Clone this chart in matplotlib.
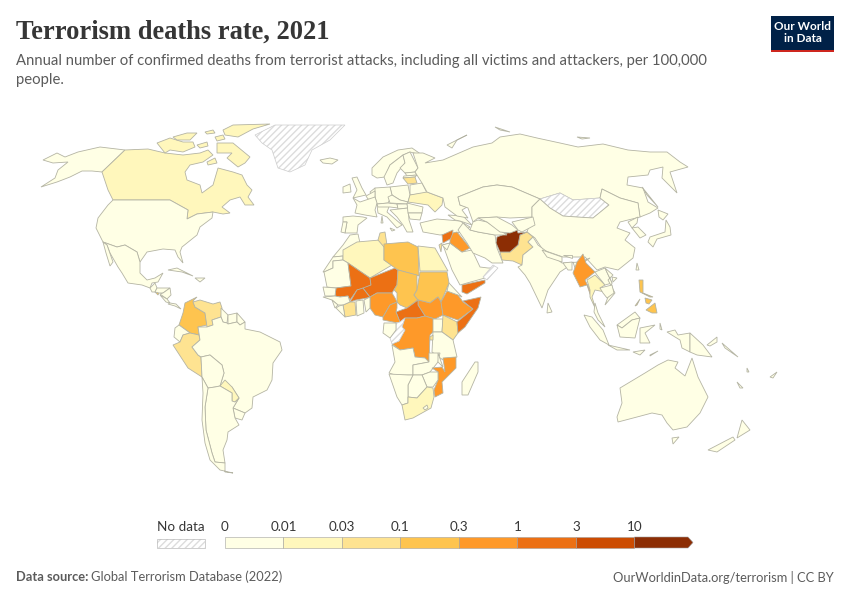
import matplotlib
matplotlib.use("Agg")
import matplotlib.pyplot as plt
from matplotlib.patches import Polygon, Rectangle
from matplotlib.colors import BoundaryNorm, ListedColormap

# bins of the colour scale
bin_edges = [0, 0.01, 0.03, 0.1, 0.3, 1, 3, 10, 30]
bin_labels = ["0", "0.01", "0.03", "0.1", "0.3", "1", "3", "10"]
bin_colors = ["#ffffe5", "#fff7bc", "#fee391", "#fec44f", "#fe9929", "#ec7014", "#cc4c02", "#8c2d04"]

# estimated rates, None = no data. anything not listed sits in the lowest bin
rates = {
    "Canada": 0.02, "Algeria": 0.02, "Egypt": 0.02, "South Africa": 0.02, "Ukraine": 0.02,
    "Thailand": 0.02, "Paraguay": 0.02,
    "Venezuela": 0.05, "Peru": 0.05, "Pakistan": 0.07, "Kenya": 0.06, "Ivory Coast": 0.05,
    "Tunisia": 0.05, "Lithuania": 0.05, "Rwanda": 0.05, "Israel": 0.05,
    "Colombia": 0.2, "Libya": 0.2, "Sudan": 0.2, "Chad": 0.2, "Philippines": 0.15, "El Salvador": 0.15,
    "Nigeria": 0.6, "Cameroon": 0.6, "Ethiopia": 0.6, "South Sudan": 0.7, "DR Congo": 0.6,
    "Myanmar": 0.7, "Mozambique": 0.7, "Iraq": 0.8,
    "Mali": 2, "Niger": 2, "Syria": 2, "Central African Rep.": 2, "Yemen": 1.5, "Somalia": 2,
    "Burkina Faso": 2,
    "Afghanistan": 15,
    "Greenland": None, "Mongolia": None, "Congo": None, "Oman": None,
}

# outlines, in image pixels
outlines = {
    "Alaska": [[(43,160),(57,153),(65,157),(78,152),(100,147),(125,150),(102,172),(92,171),(82,171),(70,177),(57,182),(41,187),(55,178),(58,170),(68,162),(53,163)]],
    "Canada": [
        [(125,150),(148,149),(165,153),(183,155),(200,153),(208,150),(213,155),(203,162),(190,165),(185,172),(187,180),(200,185),(202,193),(213,185),(218,168),(233,172),(242,175),(247,185),(252,190),(248,197),(254,205),(245,205),(240,197),(230,200),(222,207),(230,213),(223,214),(213,212),(197,214),(187,219),(188,210),(170,200),(113,200),(108,190),(102,172)],
        [(217,143),(233,143),(250,157),(245,163),(238,167),(227,158),(232,153),(217,153)],
        [(157,143),(170,138),(183,142),(193,142),(195,147),(183,152),(170,150),(165,153)],
        [(173,137),(187,133),(197,133),(190,140),(177,140)],
        [(197,145),(207,142),(208,146),(200,148)],
        [(205,132),(213,130),(215,133),(207,134)],
        [(215,137),(223,135),(225,139),(217,141)],
        [(223,130),(233,125),(270,124),(253,129),(238,137),(225,135)],
        [(207,162),(215,158),(217,163),(208,165)],
    ],
    "USA": [[(113,200),(170,200),(188,210),(187,219),(197,214),(213,212),(212,218),(200,227),(197,235),(182,247),(180,252),(183,263),(178,257),(175,250),(163,249),(147,252),(140,262),(137,252),(125,245),(117,247),(103,242),(96,228),(98,218),(108,205)]],
    "Mexico": [
        [(103,242),(117,247),(125,245),(137,252),(140,262),(140,273),(147,280),(155,278),(163,273),(158,282),(152,283),(150,288),(142,285),(128,283),(122,273),(118,267),(110,253),(107,245)],
        [(103,242),(107,245),(113,262),(110,266),(106,253)],
    ],
    "Guatemala": [[(150,288),(155,283),(157,288),(155,292),(152,292)]],
    "El Salvador": [[(155,292),(159,293),(158,295)]],
    "Honduras": [[(157,288),(170,288),(163,293),(159,293),(155,292)]],
    "Nicaragua": [[(170,288),(171,295),(167,299),(160,294),(163,293)]],
    "Costa Rica": [[(160,295),(167,299),(170,303),(166,302)]],
    "Panama": [[(170,303),(176,304),(181,309),(175,306),(168,304)]],
    "Cuba": [[(168,270),(177,268),(193,276),(182,272)]],
    "Hispaniola": [[(195,278),(205,278),(200,282)]],
    "Colombia": [[(197,297),(185,303),(183,313),(179,325),(190,333),(199,335),(200,340),(198,327),(207,325),(205,313),(195,307),(193,301)]],
    "Venezuela": [[(193,302),(200,300),(213,304),(220,302),(222,308),(221,317),(212,320),(213,325),(207,327),(205,313),(195,307)]],
    "Guyana": [[(221,308),(228,315),(227,323),(223,322),(221,317)]],
    "Suriname": [[(228,315),(237,313),(237,322),(228,324)]],
    "French Guiana": [[(237,313),(245,322),(240,325),(237,322)]],
    "Ecuador": [[(179,325),(190,333),(183,335),(180,342),(174,337),(175,328)]],
    "Peru": [[(190,333),(199,335),(200,340),(192,347),(198,355),(201,357),(202,377),(188,368),(173,345),(180,342),(183,335)]],
    "Brazil": [[(200,340),(198,327),(207,327),(213,325),(212,320),(221,317),(223,322),(227,323),(228,324),(237,322),(240,325),(245,322),(245,329),(260,332),(280,342),(282,350),(273,363),(272,380),(267,390),(253,397),(252,408),(245,413),(233,408),(239,398),(232,387),(220,386),(224,373),(222,365),(210,355),(201,357),(198,355),(192,347)]],
    "Bolivia": [[(201,357),(210,355),(222,365),(224,373),(220,386),(215,387),(208,388),(202,377)]],
    "Paraguay": [[(220,386),(225,380),(232,387),(239,398),(235,402),(232,401),(232,393)]],
    "Uruguay": [[(233,408),(245,413),(242,420),(235,418)]],
    "Argentina": [[(208,388),(215,387),(220,386),(232,393),(232,401),(235,402),(239,398),(233,408),(235,418),(239,425),(228,432),(227,440),(223,450),(225,463),(215,462),(212,453),(206,430),(205,407)]],
    "Chile": [[(202,377),(208,388),(205,407),(206,430),(212,453),(215,462),(225,463),(225,472),(233,473),(220,470),(210,460),(205,443),(202,420),(203,393)]],
    "Greenland": [[(255,135),(275,125),(345,125),(330,140),(312,150),(305,165),(290,172),(278,168),(272,150),(262,143)]],
    "Iceland": [[(320,160),(330,158),(338,160),(332,164),(323,163)]],
    "UK": [[(352,178),(357,177),(362,188),(366,195),(353,198),(357,190)]],
    "Ireland": [[(343,187),(350,184),(351,192),(343,193)]],
    "Norway": [[(372,168),(383,157),(398,150),(412,148),(422,155),(410,152),(403,155),(390,165),(385,177),(377,178),(372,175)]],
    "Sweden": [[(390,165),(403,155),(405,163),(397,173),(393,183),(387,185),(384,177)]],
    "Finland": [[(403,155),(410,152),(418,168),(415,172),(405,173),(400,168),(405,163)]],
    "Denmark": [[(370,192),(375,188),(377,193),(372,196)]],
    "Estonia": [[(405,173),(415,172),(417,175),(407,176)]],
    "Latvia": [[(404,176),(417,175),(415,177),(403,178)]],
    "Lithuania": [[(403,178),(415,177),(417,183),(408,184)]],
    "Belarus": [[(410,185),(422,183),(427,193),(410,195)]],
    "Poland": [[(390,187),(408,185),(410,195),(408,202),(400,200),(392,195)]],
    "Ukraine": [[(410,195),(427,192),(443,198),(442,205),(435,212),(428,205),(415,203),(408,202)]],
    "Germany": [[(375,188),(390,187),(392,195),(388,203),(377,204),(375,197)]],
    "Benelux": [[(366,196),(375,191),(375,197),(375,200),(368,199)]],
    "France": [[(353,198),(360,202),(375,197),(377,203),(375,210),(377,217),(365,215),(355,213),(357,205)]],
    "Spain": [[(343,217),(353,216),(363,217),(367,218),(358,225),(357,233),(345,233),(347,222),(343,222)]],
    "Portugal": [[(343,222),(347,222),(345,233),(341,232)]],
    "Italy": [[(377,205),(390,204),(387,212),(402,225),(397,228),(387,217),(378,213)], [(390,228),(395,230),(392,231)], [(382,216),(383,223),(381,223)]],
    "Austria": [[(377,204),(388,203),(397,204),(398,208),(390,207),(378,207)]],
    "Czechia": [[(388,197),(392,195),(400,200),(408,202),(407,204),(390,203)]],
    "Hungary": [[(397,204),(407,204),(408,208),(398,209)]],
    "Balkans": [[(390,210),(408,208),(409,220),(413,232),(407,232),(403,225),(397,217)]],
    "Romania": [[(407,203),(423,207),(422,213),(408,213)]],
    "Bulgaria": [[(408,213),(422,213),(420,220),(410,219)]],
    "Turkey": [[(420,223),(437,219),(460,221),(470,227),(462,232),(440,235),(423,232)]],
    "Georgia": [[(448,215),(463,216),(472,225),(460,221),(455,220)]],
    "Russia": [
        [(413,153),(423,153),(435,158),(425,163),(443,160),(473,147),(492,143),(500,137),(520,134),(537,138),(560,143),(578,147),(603,144),(628,150),(650,152),(667,152),(680,162),(688,167),(670,172),(677,193),(662,178),(663,167),(650,170),(648,175),(628,177),(627,185),(643,188),(648,202),(658,208),(650,213),(640,217),(638,203),(620,198),(602,189),(600,198),(573,200),(560,193),(540,199),(512,187),(497,185),(483,187),(458,197),(460,205),(467,207),(462,210),(468,218),(457,216),(445,207),(443,198),(427,192),(422,183),(415,172),(418,168)],
        [(447,145),(467,135),(457,140),(452,148)],
        [(495,127),(510,132),(500,130)],
        [(577,137),(590,138),(582,139)],
        [(642,187),(658,207),(647,195)],
    ],
    "Kazakhstan": [[(458,197),(483,187),(497,185),(512,187),(540,199),(532,207),(532,217),(510,218),(497,217),(478,218),(473,222),(468,208),(460,205)]],
    "Mongolia": [[(540,199),(560,193),(573,200),(600,198),(609,205),(593,218),(577,217),(563,216),(550,208)]],
    "China": [[(540,199),(550,208),(563,216),(577,217),(593,218),(609,205),(600,198),(602,189),(620,198),(638,203),(640,217),(620,222),(617,228),(630,233),(625,240),(635,248),(633,258),(618,270),(605,267),(597,270),(585,257),(563,257),(543,250),(535,238),(527,232),(532,217),(532,207)]],
    "North Korea": [[(628,222),(638,217),(637,223),(632,228)]],
    "South Korea": [[(632,228),(638,227),(646,235),(640,238)]],
    "Japan": [[(650,237),(665,232),(666,220),(670,227),(671,235),(657,239),(653,247),(648,242)], [(658,210),(668,214),(663,220),(659,217)]],
    "Taiwan": [[(637,263),(639,270),(636,270)]],
    "Hainan": [[(612,277),(617,278),(613,282)]],
    "Pakistan": [[(527,232),(533,237),(528,242),(533,247),(523,255),(522,265),(513,261),(502,260),(500,252),(510,252),(518,245),(520,235)]],
    "India": [[(528,242),(533,237),(538,245),(550,254),(562,263),(580,262),(590,258),(575,268),(573,262),(566,268),(560,272),(548,290),(542,308),(530,283),(525,275),(518,267),(522,265),(523,255),(533,247)]],
    "Nepal": [[(542,250),(562,257),(562,262),(547,257)]],
    "Bhutan": [[(563,255),(572,255),(572,258)]],
    "Bangladesh": [[(563,263),(572,262),(572,270),(568,270)]],
    "Sri Lanka": [[(548,303),(552,312),(547,313)]],
    "Myanmar": [[(583,254),(586,263),(595,272),(585,280),(590,290),(592,300),(587,285),(580,287),(573,273),(577,262)]],
    "Thailand": [[(587,280),(595,275),(605,285),(600,288),(605,292),(595,290),(592,297),(596,310),(590,297),(590,290)]],
    "Laos": [[(595,272),(605,268),(612,283),(605,285),(597,275)]],
    "Vietnam": [[(605,268),(613,275),(608,280),(615,293),(605,305),(608,297),(612,283)]],
    "Cambodia": [[(600,288),(612,285),(614,293),(607,298),(603,293)]],
    "Malaysia": [[(595,303),(598,313),(605,327),(598,320),(594,312)], [(617,325),(635,312),(640,318),(632,320),(622,328)]],
    "Indonesia": [
        [(584,315),(592,317),(603,330),(609,345),(600,340),(590,327)],
        [(608,345),(630,350),(617,350)],
        [(617,325),(622,328),(632,320),(640,318),(635,338),(620,337)],
        [(640,328),(655,325),(645,333),(650,343),(640,343)],
        [(667,332),(675,330),(678,335),(690,333),(690,352),(682,348),(680,340),(675,337)],
        [(633,352),(645,350),(640,355)], [(650,355),(658,351),(650,356)], [(660,323),(662,330),(660,329)],
    ],
    "Philippines": [[(639,280),(643,280),(643,293),(653,297),(650,297),(640,292)], [(646,310),(655,303),(657,313),(652,313)], [(645,298),(652,300),(649,304),(646,303)], [(635,306),(640,299),(637,305)]],
    "Papua New Guinea": [[(690,333),(703,345),(712,357),(697,355),(690,352)], [(707,345),(717,337),(717,342),(710,346)]],
    "Solomon": [[(722,343),(738,357),(725,348)]],
    "Vanuatu": [[(747,368),(749,372),(747,372)]],
    "Fiji": [[(770,377),(777,372),(773,378)]],
    "New Caledonia": [[(737,382),(743,388),(740,388)]],
    "Australia": [[(620,388),(645,373),(658,365),(668,360),(678,362),(675,368),(685,376),(692,358),(698,377),(708,397),(700,413),(687,427),(673,430),(667,423),(662,415),(652,413),(637,417),(618,422),(617,417),(622,403)], [(672,438),(679,437),(673,444)]],
    "New Zealand": [[(742,420),(750,430),(737,438)], [(733,437),(708,450),(717,452),(735,440)]],
    "Morocco": [[(333,257),(343,245),(350,235),(358,234),(360,243),(343,256)]],
    "W Sahara": [[(323,272),(333,257),(343,256),(343,260),(333,261),(333,268),(324,272)]],
    "Algeria": [[(343,250),(357,242),(380,240),(384,243),(384,260),(392,265),(370,278),(348,263),(343,260)]],
    "Tunisia": [[(380,233),(385,232),(387,245),(384,247),(378,240)]],
    "Mauritania": [[(324,272),(333,268),(333,261),(343,260),(348,263),(351,286),(336,288),(327,287)]],
    "Mali": [[(348,263),(370,278),(371,285),(365,288),(357,290),(350,300),(348,296),(340,297),(335,296),(336,288),(351,286)]],
    "Burkina Faso": [[(357,290),(363,288),(370,297),(367,298),(356,300),(350,302)]],
    "Niger": [[(370,278),(395,268),(398,270),(397,285),(392,293),(377,293),(370,297),(363,288),(371,285)]],
    "Libya": [[(384,244),(408,242),(418,247),(419,276),(398,270),(395,268),(384,260)]],
    "Egypt": [[(418,246),(435,248),(448,271),(420,271)]],
    "Chad": [[(398,270),(417,275),(417,290),(414,295),(418,300),(407,308),(400,305),(397,302),(397,293),(394,290),(397,285)]],
    "Sudan": [[(420,272),(447,272),(449,283),(441,302),(438,297),(430,303),(418,300),(414,295),(417,290)]],
    "South Sudan": [[(418,300),(430,303),(438,297),(441,302),(443,315),(435,319),(425,316),(418,305)]],
    "Central African Rep.": [[(396,312),(407,308),(418,300),(418,305),(425,316),(417,318),(405,318),(400,322)]],
    "Nigeria": [[(370,297),(377,293),(392,293),(395,298),(397,302),(390,305),(383,317),(375,315),(370,308)]],
    "Cameroon": [[(397,302),(397,308),(396,312),(400,322),(398,323),(383,320),(383,317),(390,305)]],
    "Benin": [[(364,300),(370,297),(370,308),(366,312)]],
    "Ghana": [[(356,301),(363,300),(364,313),(357,316)]],
    "Ivory Coast": [[(343,305),(350,302),(355,302),(356,315),(345,317)]],
    "Senegal": [[(323,287),(336,288),(335,296),(325,296)]],
    "Guinea": [[(323,297),(335,296),(340,297),(348,296),(350,302),(343,305),(338,305),(332,300)]],
    "Sierra Leone": [[(332,300),(338,305),(335,308)]],
    "Liberia": [[(336,308),(339,306),(343,305),(345,317)]],
    "DR Congo": [[(405,318),(417,318),(425,316),(435,319),(433,332),(430,335),(429,362),(425,358),(415,357),(413,348),(400,350),(392,344),(399,341),(405,330),(402,327)]],
    "Congo": [[(400,322),(405,318),(402,327),(405,330),(399,341),(392,344),(390,338),(396,330),(396,323)]],
    "Gabon": [[(384,323),(396,323),(396,330),(390,338),(383,333)]],
    "Uganda": [[(433,319),(443,319),(442,332),(433,332)]],
    "Kenya": [[(443,315),(457,322),(458,333),(453,340),(442,332)]],
    "Ethiopia": [[(447,291),(458,295),(463,302),(473,309),(458,320),(443,315),(441,302)]],
    "Eritrea": [[(449,283),(462,297),(458,295),(447,291)]],
    "Somalia": [[(463,301),(481,297),(478,308),(465,327),(458,333),(457,322),(473,309)]],
    "Saudi Arabia": [[(443,245),(450,243),(462,252),(472,250),(480,267),(488,268),(495,268),(485,278),(467,283),(460,285),(452,270)]],
    "Yemen": [[(462,285),(485,280),(485,283),(467,294),(462,292)]],
    "Oman": [[(483,277),(493,265),(498,268),(487,280)]],
    "Syria": [[(442,235),(453,230),(452,238),(443,243)]],
    "Iraq": [[(453,233),(457,232),(470,248),(462,252),(450,243),(450,240)]],
    "Israel": [[(439,245),(442,243),(441,252)]],
    "Jordan": [[(442,245),(450,243),(447,250)]],
    "Iran": [[(463,223),(470,230),(478,232),(495,235),(497,248),(503,263),(492,263),(485,258),(473,253),(467,243),(458,230)]],
    "Afghanistan": [[(497,237),(515,230),(517,228),(518,233),(527,232),(520,235),(518,245),(510,252),(500,252),(496,243)]],
    "Turkmenistan": [[(478,220),(487,222),(507,235),(495,235),(478,232),(470,230),(473,222)]],
    "Uzbekistan": [[(478,218),(497,217),(512,225),(518,230),(510,233),(500,232),(487,222)]],
    "Kyrgyzstan": [[(512,222),(533,217),(535,225),(522,232),(518,230)]],
    "Tanzania": [[(433,332),(442,332),(453,340),(457,357),(443,360),(432,352)]],
    "Rwanda": [[(430,337),(433,335),(433,340),(430,340)]],
    "Angola": [[(392,345),(400,350),(413,348),(415,357),(425,358),(429,362),(413,365),(413,375),(395,375),(389,373),(395,362)]],
    "Zambia": [[(429,353),(440,353),(438,362),(430,372),(422,375),(413,375),(413,365),(429,362)]],
    "Malawi": [[(438,353),(443,367),(438,362)]],
    "Mozambique": [[(443,358),(456,357),(456,368),(442,382),(443,393),(435,397),(434,390),(438,380),(438,372),(432,368),(442,367),(445,372)]],
    "Zimbabwe": [[(422,375),(430,372),(438,372),(438,380),(433,387),(427,387)]],
    "Botswana": [[(413,375),(422,375),(427,387),(417,398),(408,397),(408,385)]],
    "Namibia": [[(389,374),(408,375),(413,375),(408,385),(408,403),(402,405),(397,397)]],
    "South Africa": [[(402,405),(408,403),(408,397),(417,398),(427,387),(433,388),(434,397),(431,408),(413,418),(405,420)]],
    "Lesotho": [[(423,408),(427,405),(428,408),(425,410)]],
    "Madagascar": [[(475,362),(478,362),(478,372),(468,395),(462,395),(462,382)]],
}

edge_col = "#b4b4a4"
hatch_col = "#dcdcdc"
dark = "#363636"
grey = "#5b5b5b"

plt.rcParams["hatch.linewidth"] = 1.0
cmap = ListedColormap(bin_colors)
norm = BoundaryNorm(bin_edges, cmap.N)

fig = plt.figure(figsize=(8.5, 6), dpi=100)
ax = fig.add_axes([0, 0, 1, 1])
ax.set_xlim(0, 850)
ax.set_ylim(600, 0)
ax.axis("off")

for name, polys in outlines.items():
    rate = rates.get(name, 0.001)
    for pts in polys:
        if rate is None:
            ax.add_patch(Polygon(pts, facecolor="white", edgecolor=hatch_col, hatch="/////", lw=0))
            ax.add_patch(Polygon(pts, fill=False, edgecolor="#cccccc", lw=0.5))
        else:
            ax.add_patch(Polygon(pts, facecolor=cmap(norm(rate)), edgecolor=edge_col, lw=0.6))

# title block
ax.text(16, 32, "Terrorism deaths rate, 2021", family="Liberation Serif", weight="bold",
        fontsize=19.1, color=dark, va="center")
ax.text(16, 61, "Annual number of confirmed deaths from terrorist attacks, including all victims and attackers, per 100,000",
        family="Lato", fontsize=10.7, color=grey, va="center")
ax.text(16, 80, "people.", family="Lato", fontsize=10.7, color=grey, va="center")

# logo
ax.add_patch(Rectangle((771, 16), 63, 36, facecolor="#002147", lw=0))
ax.add_patch(Rectangle((771, 50), 63, 2, facecolor="#ce261e", lw=0))
ax.text(802.5, 26, "Our World", family="Lato", weight="bold", fontsize=8.5, color="white", ha="center", va="center")
ax.text(802.5, 39, "in Data", family="Lato", weight="bold", fontsize=8.5, color="white", ha="center", va="center")

# legend
ax.text(180.5, 527, "No data", family="Lato", fontsize=9.7, color=dark, ha="center", va="center")
ax.add_patch(Rectangle((157, 539), 48, 9, facecolor="white", edgecolor=hatch_col, hatch="/////", lw=0))
ax.add_patch(Rectangle((157, 539), 48, 9, fill=False, edgecolor="#bbbbbb", lw=0.5))

bar_x0, bar_w, bar_y, bar_h = 225, 58.5, 537, 11
for i, col in enumerate(bin_colors):
    x = bar_x0 + i * bar_w
    if i == len(bin_colors) - 1:
        ax.add_patch(Polygon([(x, bar_y), (x + bar_w - 5, bar_y), (x + bar_w, bar_y + bar_h / 2),
                              (x + bar_w - 5, bar_y + bar_h), (x, bar_y + bar_h)],
                             facecolor=col, edgecolor="#a0a0a0", lw=0.4))
    else:
        ax.add_patch(Rectangle((x, bar_y), bar_w, bar_h, facecolor=col, edgecolor="#a0a0a0", lw=0.4))
    ax.text(x, 527, bin_labels[i], family="Lato", fontsize=9.7, color=dark, ha="center", va="center")

# footer
ax.text(16, 577, "Data source:", family="Lato", weight="bold", fontsize=9.3, color=grey, va="center")
ax.text(91, 577, "Global Terrorism Database (2022)", family="Lato", fontsize=9.3, color=grey, va="center")
ax.text(834, 577, "OurWorldinData.org/terrorism | CC BY", family="Lato", fontsize=9.3, color=grey, ha="right", va="center")

fig.savefig("out.png", dpi=100)
